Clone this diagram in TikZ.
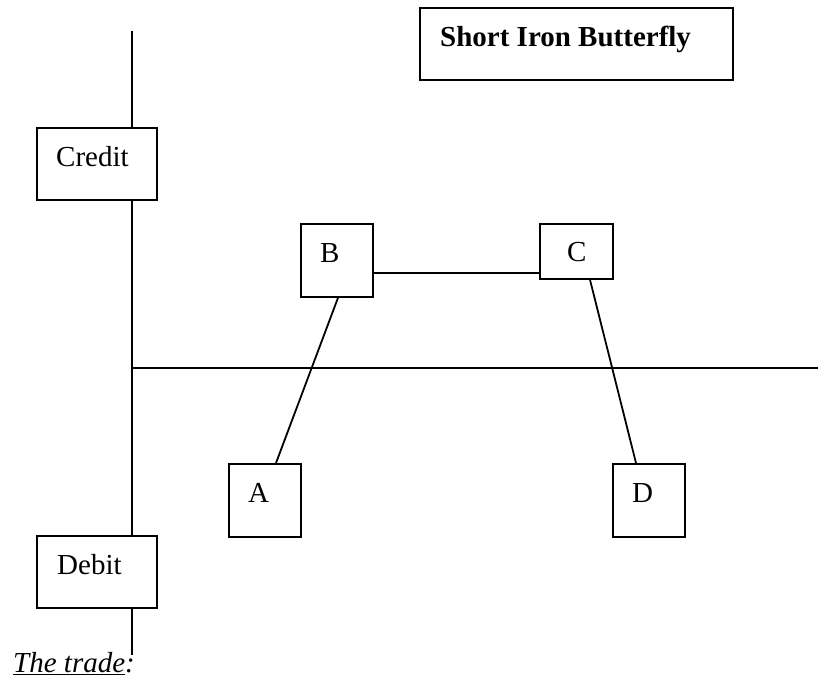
\documentclass[tikz,border=0pt]{standalone}
\usepackage{fontspec}
\setmainfont{Liberation Serif}
\usetikzlibrary{calc}
\begin{document}
\begin{tikzpicture}[x=1pt,y=-1pt,
  ln/.style={line width=1.8pt},
  box/.style={draw,line width=1.8pt,anchor=north west,inner sep=0pt,fill=white},
  txt/.style={anchor=base west,inner sep=0pt,font=\fontsize{29}{34}\selectfont}]
\useasboundingbox (0,0) rectangle (818,677);
% boxes
\node[box,minimum width=313,minimum height=72] (title) at (419,7) {};
\node[box,minimum width=120,minimum height=72] (credit) at (36,127) {};
\node[box,minimum width=120,minimum height=72] (debit) at (36,535) {};
\node[box,minimum width=72,minimum height=73] (B) at (300,223) {};
\node[box,minimum width=73,minimum height=55] (C) at (539,223) {};
\node[box,minimum width=72,minimum height=73] (A) at (228,463) {};
\node[box,minimum width=72,minimum height=73] (D) at (612,463) {};
% axes
\coordinate (top) at (132,31);
\coordinate (bot) at (132,655);
\coordinate (xs) at (132,368);
\coordinate (xe) at (818,368);
\draw[ln] (top) -- (credit.north -| top);
\draw[ln] (credit.south -| top) -- (debit.north -| top);
\draw[ln] (debit.south -| top) -- (bot);
\draw[ln] (xs) -- (xe);
% payoff lines
\draw[ln] ([xshift=38]B.south west) -- ([xshift=48]A.north west);
\draw[ln] ([yshift=-12.5]B.east) coordinate (bc) -- (bc -| C.west);
\draw[ln] ([xshift=51]C.south west) -- ([xshift=24]D.north west);
% texts
\node[txt,font=\fontsize{29}{34}\selectfont\bfseries] at (440,46) {Short Iron Butterfly};
\node[txt] at (56,166) {Credit};
\node[txt] at (57,574) {Debit};
\node[txt] at (320,262) {B};
\node[txt] at (567,261) {C};
\node[txt] at (248,502) {A};
\node[txt] at (632,502) {D};
\node[txt,font=\fontsize{29}{34}\selectfont\itshape] at (13,672) {\underline{The trade}:};
\end{tikzpicture}
\end{document}
